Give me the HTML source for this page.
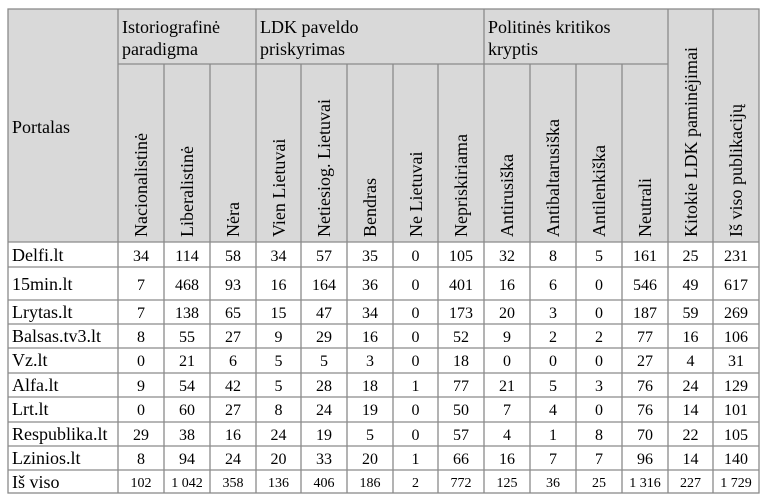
<!DOCTYPE html>
<html><head><meta charset="utf-8"><style>
html,body{margin:0;padding:0;background:#fff;}
svg{display:block;}
text{font-family:"Liberation Serif",serif;fill:#000;}
</style></head><body>
<svg width="765" height="499" viewBox="0 0 765 499" xmlns="http://www.w3.org/2000/svg">
<rect x="8" y="9" width="751" height="233" fill="#d9d9d9"/>
<g stroke="#8a8a8a" stroke-width="1.3" fill="none">
<rect x="8" y="9" width="751" height="484"/>
<line x1="118" y1="64" x2="668" y2="64"/>
<line x1="118" y1="9" x2="118" y2="493"/>
<line x1="164" y1="64" x2="164" y2="493"/>
<line x1="210" y1="64" x2="210" y2="493"/>
<line x1="256" y1="9" x2="256" y2="493"/>
<line x1="301" y1="64" x2="301" y2="493"/>
<line x1="347" y1="64" x2="347" y2="493"/>
<line x1="393" y1="64" x2="393" y2="493"/>
<line x1="438" y1="64" x2="438" y2="493"/>
<line x1="484" y1="9" x2="484" y2="493"/>
<line x1="530" y1="64" x2="530" y2="493"/>
<line x1="576" y1="64" x2="576" y2="493"/>
<line x1="622" y1="64" x2="622" y2="493"/>
<line x1="668" y1="9" x2="668" y2="493"/>
<line x1="713" y1="9" x2="713" y2="493"/>
<line x1="8" y1="242" x2="759" y2="242"/>
<line x1="8" y1="267" x2="759" y2="267"/>
<line x1="8" y1="300" x2="759" y2="300"/>
<line x1="8" y1="324" x2="759" y2="324"/>
<line x1="8" y1="348" x2="759" y2="348"/>
<line x1="8" y1="373" x2="759" y2="373"/>
<line x1="8" y1="397" x2="759" y2="397"/>
<line x1="8" y1="422" x2="759" y2="422"/>
<line x1="8" y1="446" x2="759" y2="446"/>
<line x1="8" y1="470" x2="759" y2="470"/>
</g>
<g font-size="18">
<text x="122" y="33">Istoriografinė</text>
<text x="122" y="55">paradigma</text>
<text x="260" y="33">LDK paveldo</text>
<text x="260" y="55">priskyrimas</text>
<text x="488" y="33">Politinės kritikos</text>
<text x="488" y="55">kryptis</text>
<text x="12" y="133">Portalas</text>
</g>
<g font-size="18">
<text transform="translate(147,237) rotate(-90)">Nacionalistinė</text>
<text transform="translate(193,237) rotate(-90)">Liberalistinė</text>
<text transform="translate(239,237) rotate(-90)">Nėra</text>
<text transform="translate(285,237) rotate(-90)">Vien Lietuvai</text>
<text transform="translate(330,237) rotate(-90)">Netiesiog. Lietuvai</text>
<text transform="translate(376,237) rotate(-90)">Bendras</text>
<text transform="translate(422,237) rotate(-90)">Ne Lietuvai</text>
<text transform="translate(467,237) rotate(-90)">Nepriskiriama</text>
<text transform="translate(513,237) rotate(-90)">Antirusiška</text>
<text transform="translate(559,237) rotate(-90)">Antibaltarusiška</text>
<text transform="translate(605,237) rotate(-90)">Antilenkiška</text>
<text transform="translate(651,237) rotate(-90)">Neutrali</text>
<text transform="translate(697,237) rotate(-90)">Kitokie LDK paminėjimai</text>
<text transform="translate(742,237) rotate(-90)">Iš viso publikacijų</text>
</g>
<g font-size="18">
<text x="12" y="261">Delfi.lt</text>
<text x="12" y="290">15min.lt</text>
<text x="12" y="318">Lrytas.lt</text>
<text x="12" y="342">Balsas.tv3.lt</text>
<text x="12" y="366">Vz.lt</text>
<text x="12" y="391">Alfa.lt</text>
<text x="12" y="415">Lrt.lt</text>
<text x="12" y="440">Respublika.lt</text>
<text x="12" y="464">Lzinios.lt</text>
<text x="12" y="488">Iš viso</text>
</g>
<g font-size="16" text-anchor="middle">
<g transform="translate(0,261)"><text x="141">34</text><text x="187">114</text><text x="233">58</text><text x="278.5">34</text><text x="324">57</text><text x="370">35</text><text x="415.5">0</text><text x="461">105</text><text x="507">32</text><text x="553">8</text><text x="599">5</text><text x="645">161</text><text x="690.5">25</text><text x="736">231</text></g>
<g transform="translate(0,290)"><text x="141">7</text><text x="187">468</text><text x="233">93</text><text x="278.5">16</text><text x="324">164</text><text x="370">36</text><text x="415.5">0</text><text x="461">401</text><text x="507">16</text><text x="553">6</text><text x="599">0</text><text x="645">546</text><text x="690.5">49</text><text x="736">617</text></g>
<g transform="translate(0,318)"><text x="141">7</text><text x="187">138</text><text x="233">65</text><text x="278.5">15</text><text x="324">47</text><text x="370">34</text><text x="415.5">0</text><text x="461">173</text><text x="507">20</text><text x="553">3</text><text x="599">0</text><text x="645">187</text><text x="690.5">59</text><text x="736">269</text></g>
<g transform="translate(0,342)"><text x="141">8</text><text x="187">55</text><text x="233">27</text><text x="278.5">9</text><text x="324">29</text><text x="370">16</text><text x="415.5">0</text><text x="461">52</text><text x="507">9</text><text x="553">2</text><text x="599">2</text><text x="645">77</text><text x="690.5">16</text><text x="736">106</text></g>
<g transform="translate(0,366)"><text x="141">0</text><text x="187">21</text><text x="233">6</text><text x="278.5">5</text><text x="324">5</text><text x="370">3</text><text x="415.5">0</text><text x="461">18</text><text x="507">0</text><text x="553">0</text><text x="599">0</text><text x="645">27</text><text x="690.5">4</text><text x="736">31</text></g>
<g transform="translate(0,391)"><text x="141">9</text><text x="187">54</text><text x="233">42</text><text x="278.5">5</text><text x="324">28</text><text x="370">18</text><text x="415.5">1</text><text x="461">77</text><text x="507">21</text><text x="553">5</text><text x="599">3</text><text x="645">76</text><text x="690.5">24</text><text x="736">129</text></g>
<g transform="translate(0,415)"><text x="141">0</text><text x="187">60</text><text x="233">27</text><text x="278.5">8</text><text x="324">24</text><text x="370">19</text><text x="415.5">0</text><text x="461">50</text><text x="507">7</text><text x="553">4</text><text x="599">0</text><text x="645">76</text><text x="690.5">14</text><text x="736">101</text></g>
<g transform="translate(0,440)"><text x="141">29</text><text x="187">38</text><text x="233">16</text><text x="278.5">24</text><text x="324">19</text><text x="370">5</text><text x="415.5">0</text><text x="461">57</text><text x="507">4</text><text x="553">1</text><text x="599">8</text><text x="645">70</text><text x="690.5">22</text><text x="736">105</text></g>
<g transform="translate(0,464)"><text x="141">8</text><text x="187">94</text><text x="233">24</text><text x="278.5">20</text><text x="324">33</text><text x="370">20</text><text x="415.5">1</text><text x="461">66</text><text x="507">16</text><text x="553">7</text><text x="599">7</text><text x="645">96</text><text x="690.5">14</text><text x="736">140</text></g>
</g>
<g font-size="14" text-anchor="middle" transform="translate(0,487)">
<text x="141">102</text><text x="187">1 042</text><text x="233">358</text><text x="278.5">136</text><text x="324">406</text><text x="370">186</text><text x="415.5">2</text><text x="461">772</text><text x="507">125</text><text x="553">36</text><text x="599">25</text><text x="645">1 316</text><text x="690.5">227</text><text x="736">1 729</text>
</g>
</svg>
</body></html>
